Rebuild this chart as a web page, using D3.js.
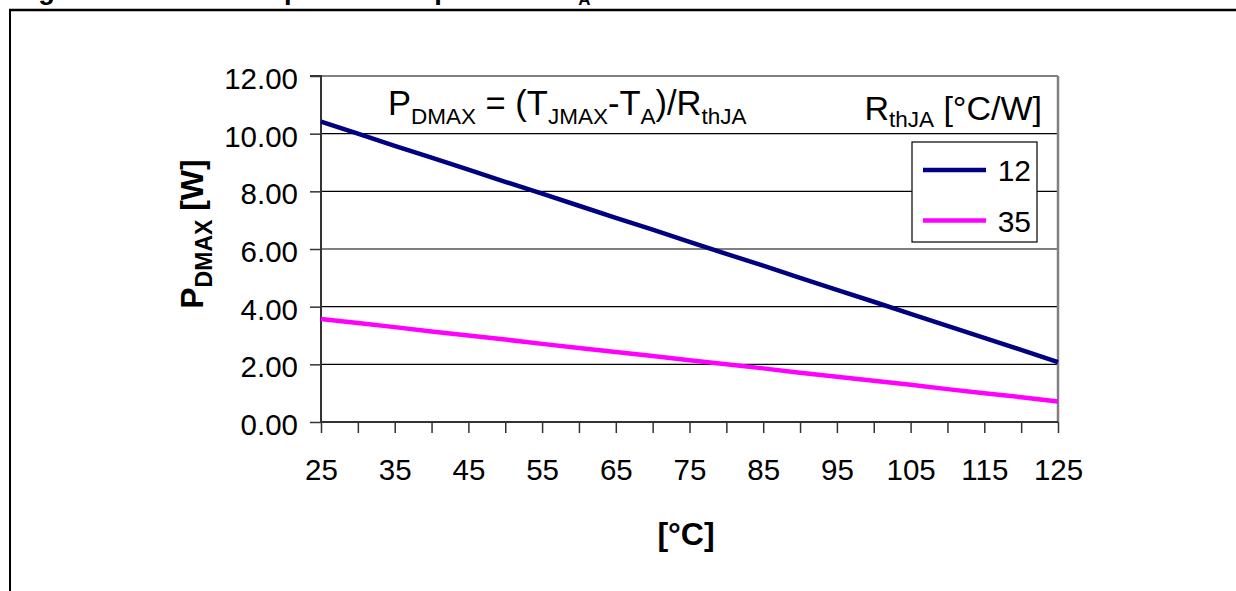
<!DOCTYPE html>
<html><head><meta charset="utf-8">
<script src="https://cdn.jsdelivr.net/npm/d3@7"></script>
<style>
html,body{margin:0;padding:0;background:#fff;}
svg{display:block;font-family:"Liberation Sans",Arial,Helvetica,sans-serif;}
</style></head>
<body>
<svg id="c" width="1236" height="591"></svg>
<script>
const temps = [25,30,35,40,45,50,55,60,65,70,75,80,85,90,95,100,105,110,115,120,125];
const r12 = [10.42,10.00,9.58,9.17,8.75,8.33,7.92,7.50,7.08,6.67,6.25,5.83,5.42,5.00,4.58,4.17,3.75,3.33,2.92,2.50,2.08];
const r35 = [3.57,3.43,3.29,3.14,3.00,2.86,2.71,2.57,2.43,2.29,2.14,2.00,1.86,1.71,1.57,1.43,1.29,1.14,1.00,0.86,0.71];
const seriesNames = ["12","35"];
const seriesColors = ["#000080","#FF00FF"];
const yTicks = [0,2,4,6,8,10,12];
const xLabelTicks = [25,35,45,55,65,75,85,95,105,115,125];

const svg = d3.select("#c");
const x = d3.scaleLinear().domain([25,125]).range([321,1058]);
const y = d3.scaleLinear().domain([0,12]).range([422,76]);

// outer frame
svg.append("line").attr("x1",9).attr("x2",1236).attr("y1",10).attr("y2",10).attr("stroke","#000").attr("stroke-width",2.5);
svg.append("line").attr("x1",10).attr("x2",10).attr("y1",9).attr("y2",591).attr("stroke","#000").attr("stroke-width",2);

// cut-off caption
const cap = svg.append("text").attr("x",14).attr("y",-1).attr("font-size",27.3).attr("font-weight","bold");
cap.append("tspan").text("Figure 10. Maximum power dissipation vs T");
cap.append("tspan").attr("dy",6).attr("font-size",17).text("A");

// gridlines
svg.append("g").selectAll("line").data(yTicks.filter(d=>d>0&&d<12)).join("line")
  .attr("x1",x(25)).attr("x2",x(125)).attr("y1",d=>y(d)).attr("y2",d=>y(d))
  .attr("stroke","#000").attr("stroke-width",1.2);
// top and right border (gray)
svg.append("line").attr("x1",x(25)).attr("x2",x(125)).attr("y1",y(12)).attr("y2",y(12)).attr("stroke","#808080").attr("stroke-width",2);
svg.append("line").attr("x1",x(125)).attr("x2",x(125)).attr("y1",y(12)).attr("y2",y(0)).attr("stroke","#808080").attr("stroke-width",2.5);

// y axis
const yAxis = d3.axisLeft(y).tickValues(yTicks).tickSize(11).tickPadding(12).tickFormat(d3.format(".2f"));
const ga = svg.append("g").attr("transform",`translate(${x(25)},0)`).call(yAxis);
ga.select(".domain").attr("stroke","#333").attr("stroke-width",2).attr("d",`M-11,${y(12)}H0V${y(0)}`);
ga.selectAll(".tick line").attr("stroke","#333").attr("stroke-width",1.5);
ga.selectAll(".tick text").attr("font-size",29.5).attr("fill","#000").attr("font-family","Liberation Sans, Arial, sans-serif").attr("dy","0.42em");

// x axis
const xAxis = d3.axisBottom(x).tickValues(temps).tickSize(11).tickFormat(d=>xLabelTicks.includes(d)?d:"").tickPadding(26);
const gx = svg.append("g").attr("transform",`translate(0,${y(0)})`).call(xAxis);
gx.select(".domain").attr("stroke","#333").attr("stroke-width",2).attr("d",`M${x(25)},0H${x(125)}`);
gx.selectAll(".tick line").attr("stroke","#333").attr("stroke-width",1.5);
gx.selectAll(".tick text").attr("font-size",29.5).attr("fill","#000").attr("font-family","Liberation Sans, Arial, sans-serif");

// lines
const series = [r12, r35];
const line = d3.line().x((d,i)=>x(temps[i])).y(d=>y(d));
svg.append("g").selectAll("path").data(series).join("path")
  .attr("d",line).attr("fill","none")
  .attr("stroke",(d,i)=>seriesColors[i]).attr("stroke-width",4.5).attr("stroke-linejoin","round");

// formula title
const t = svg.append("text").attr("x",388).attr("y",115).attr("font-size",34.5).attr("fill","#000");
t.append("tspan").text("P");
t.append("tspan").attr("font-size",22.5).attr("dy",9).text("DMAX");
t.append("tspan").attr("dy",-9).text(" = (T");
t.append("tspan").attr("font-size",22.5).attr("dy",9).text("JMAX");
t.append("tspan").attr("dy",-9).text("-T");
t.append("tspan").attr("font-size",22.5).attr("dy",9).text("A");
t.append("tspan").attr("dy",-9).text(")/R");
t.append("tspan").attr("font-size",22.5).attr("dy",9).text("thJA");

// legend title
const lt = svg.append("text").attr("x",1042).attr("y",120).attr("text-anchor","end").attr("font-size",34).attr("fill","#000");
lt.append("tspan").text("R");
lt.append("tspan").attr("font-size",22.5).attr("dy",7).text("thJA");
lt.append("tspan").attr("dy",-7).text(" [°C/W]");

// legend box
const lg = svg.append("g");
lg.append("rect").attr("x",912).attr("y",142).attr("width",125).attr("height",100).attr("fill","#fff").attr("stroke","#000").attr("stroke-width",1.2);
seriesNames.forEach((n,i)=>{
  const yy = 170 + i*50.5;
  lg.append("line").attr("x1",923).attr("x2",986).attr("y1",yy).attr("y2",yy).attr("stroke",seriesColors[i]).attr("stroke-width",4.5);
  lg.append("text").attr("x",1031).attr("y",yy+11).attr("text-anchor","end").attr("font-size",30).attr("fill","#000").text(n);
});

// axis titles
const yl = svg.append("text").attr("transform","translate(203,234) rotate(-90)").attr("text-anchor","middle")
  .attr("font-size",32).attr("font-weight","bold").attr("fill","#000");
yl.append("tspan").text("P");
yl.append("tspan").attr("font-size",23).attr("dy",9).text("DMAX");
yl.append("tspan").attr("dy",-9).text(" [W]");

svg.append("text").attr("x",686).attr("y",545).attr("text-anchor","middle").attr("font-size",32).attr("font-weight","bold").attr("fill","#000").text("[°C]");
</script>
</body></html>
